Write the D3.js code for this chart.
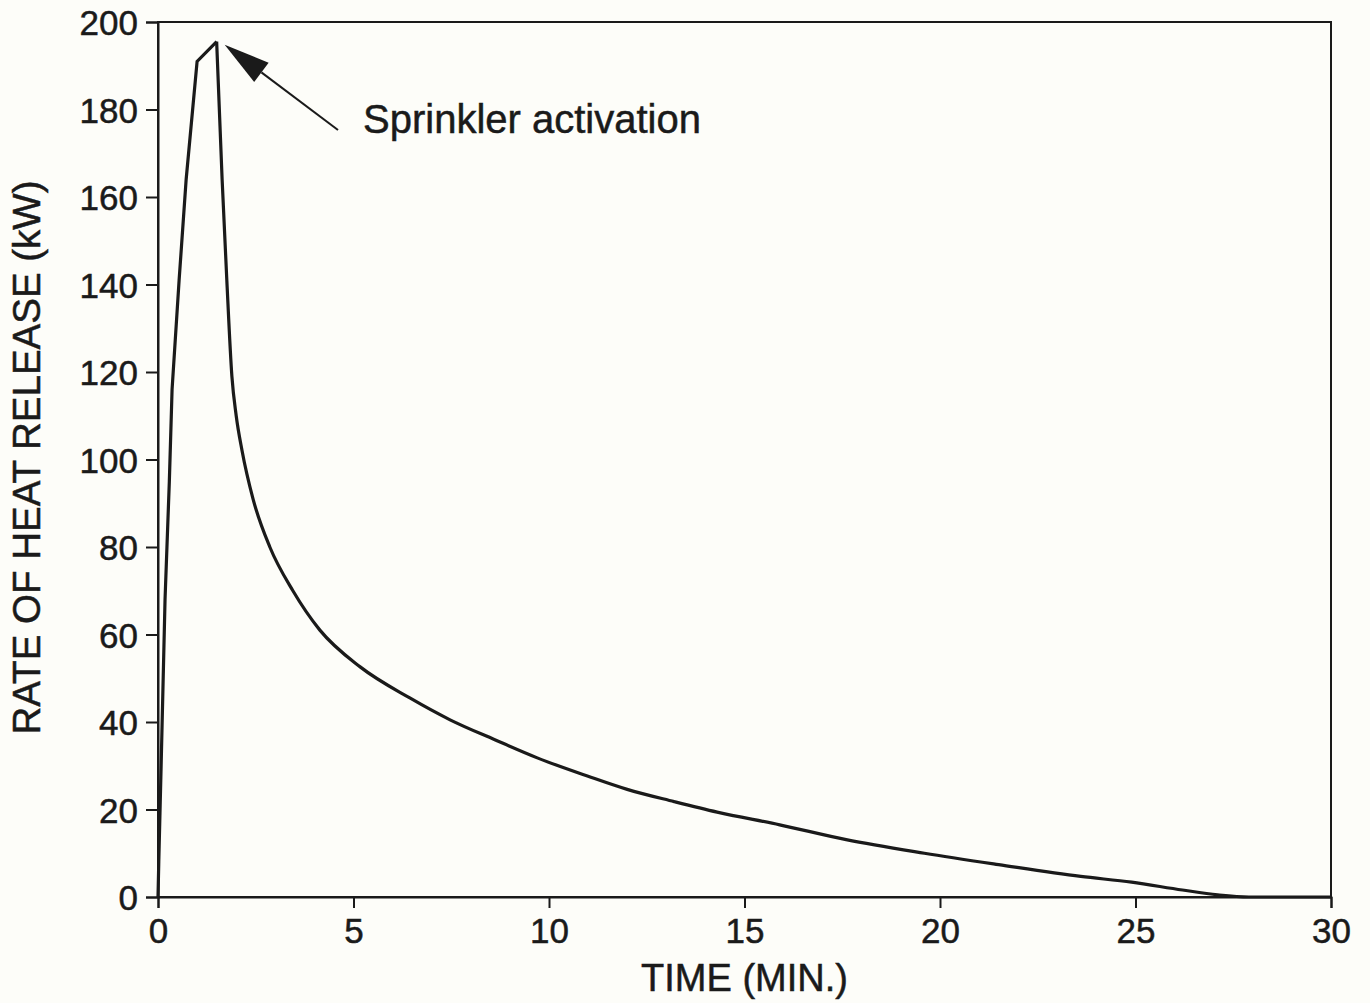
<!DOCTYPE html>
<html>
<head>
<meta charset="utf-8">
<script src="https://cdn.jsdelivr.net/npm/d3@7"></script>
<style>
  html, body { margin: 0; padding: 0; background: #fdfdf9; }
  svg { display: block; }
  text { font-family: "Liberation Sans", Arial, Helvetica, sans-serif; fill: #1a1a1a; stroke: #1a1a1a; stroke-width: 0.5px; }
</style>
</head>
<body>
<svg id="chart" width="1370" height="1003"></svg>
<script>
// ---- Data ----
// rising part (up to the sprinkler activation peak)
const riseTime = [0, 0.02, 0.08, 0.18, 0.29, 0.36, 0.54, 0.72, 1.0, 1.5];
const riseHeat = [0, 8, 30, 68, 95, 116, 141, 164, 191, 195.5];
// decay part (after sprinkler activation)
const decayTime = [1.5, 1.64, 1.76, 1.89, 2.0, 2.15, 2.43, 2.86, 3.45, 4.14, 5.17, 6.44, 7.47, 8.6, 9.7, 11.0, 12.0, 13.2, 14.3, 15.9, 17.6, 19.6, 21.5, 23.6, 24.9, 26.2, 27.1, 27.9, 30];
const decayHeat = [195.5, 164, 141, 119, 110, 102, 91, 80, 70, 61, 52.6, 45.5, 40.5, 36, 31.8, 27.6, 24.6, 21.8, 19.4, 16.5, 13.1, 10.0, 7.4, 4.7, 3.4, 1.6, 0.5, 0, 0];
const xTicks = [0, 5, 10, 15, 20, 25, 30];
const yTicks = [0, 20, 40, 60, 80, 100, 120, 140, 160, 180, 200];
const xTitle = "TIME (MIN.)";
const yTitle = "RATE OF HEAT RELEASE (kW)";
const annotationText = "Sprinkler activation";
const peakPoint = { t: 1.5, v: 195.5 };

// ---- Layout ----
const W = 1370, H = 1003;
const m = { left: 158, top: 22, right: W - 1331, bottom: H - 897 };
const svg = d3.select("#chart");

const x = d3.scaleLinear().domain([0, 30]).range([m.left, W - m.right]);
const y = d3.scaleLinear().domain([0, 200]).range([H - m.bottom, m.top]);

// frame
svg.append("rect")
  .attr("x", x(0)).attr("y", y(200))
  .attr("width", x(30) - x(0)).attr("height", y(0) - y(200))
  .attr("fill", "none").attr("stroke", "#1a1a1a").attr("stroke-width", 2);

// axes
const xAxis = svg.append("g")
  .attr("transform", `translate(0,${y(0)})`)
  .call(d3.axisBottom(x).tickValues(xTicks).tickSize(11).tickPadding(10).tickFormat(d3.format("d")));
const yAxis = svg.append("g")
  .attr("transform", `translate(${x(0)},0)`)
  .call(d3.axisLeft(y).tickValues(yTicks).tickSize(12).tickPadding(8).tickFormat(d3.format("d")));

[xAxis, yAxis].forEach(g => {
  g.select(".domain").attr("stroke", "#1a1a1a").attr("stroke-width", 2);
  g.selectAll(".tick line").attr("stroke", "#1a1a1a").attr("stroke-width", 2);
  g.selectAll(".tick text")
    .attr("font-size", 35)
    .attr("fill", "#1a1a1a")
    .style("font-family", "'Liberation Sans', Arial, sans-serif");
});
yAxis.selectAll(".tick text").attr("dy", "0.36em");

// axis titles
svg.append("text")
  .attr("x", (x(0) + x(30)) / 2)
  .attr("y", 991)
  .attr("text-anchor", "middle")
  .attr("font-size", 38)
  .text(xTitle);

svg.append("text")
  .attr("transform", `translate(40,${(y(0) + y(200)) / 2 - 2}) rotate(-90)`)
  .attr("text-anchor", "middle")
  .attr("font-size", 38.5)
  .text(yTitle);

// curve: straight segments on the rise, smooth decay
const riseLine = d3.line()
  .x((d, i) => x(riseTime[i]))
  .y(d => y(d))
  .curve(d3.curveLinear);
const decayLine = d3.line()
  .x((d, i) => x(decayTime[i]))
  .y(d => y(d))
  .curve(d3.curveMonotoneX);

svg.append("path")
  .datum(riseHeat)
  .attr("d", riseLine)
  .attr("fill", "none")
  .attr("stroke", "#1a1a1a")
  .attr("stroke-width", 3.2)
  .attr("stroke-linejoin", "miter");

svg.append("path")
  .datum(decayHeat)
  .attr("d", decayLine)
  .attr("fill", "none")
  .attr("stroke", "#1a1a1a")
  .attr("stroke-width", 3.2)
  .attr("stroke-linejoin", "miter");

// annotation arrow
const tipX = x(peakPoint.t) + 8, tipY = y(peakPoint.v) + 3;
const tailX = 338, tailY = 130;
const ang = Math.atan2(tailY - tipY, tailX - tipX);
const headLen = 46, headHalf = 12;
const bx = tipX + headLen * Math.cos(ang), by = tipY + headLen * Math.sin(ang);
const px = -Math.sin(ang), py = Math.cos(ang);

svg.append("line")
  .attr("x1", bx).attr("y1", by)
  .attr("x2", tailX).attr("y2", tailY)
  .attr("stroke", "#1a1a1a").attr("stroke-width", 2);

svg.append("path")
  .attr("d", `M${tipX},${tipY} L${bx + px * headHalf},${by + py * headHalf} L${bx - px * headHalf},${by - py * headHalf} Z`)
  .attr("fill", "#1a1a1a");

svg.append("text")
  .attr("x", 363)
  .attr("y", 133)
  .attr("font-size", 40)
  .text(annotationText);
</script>
</body>
</html>
